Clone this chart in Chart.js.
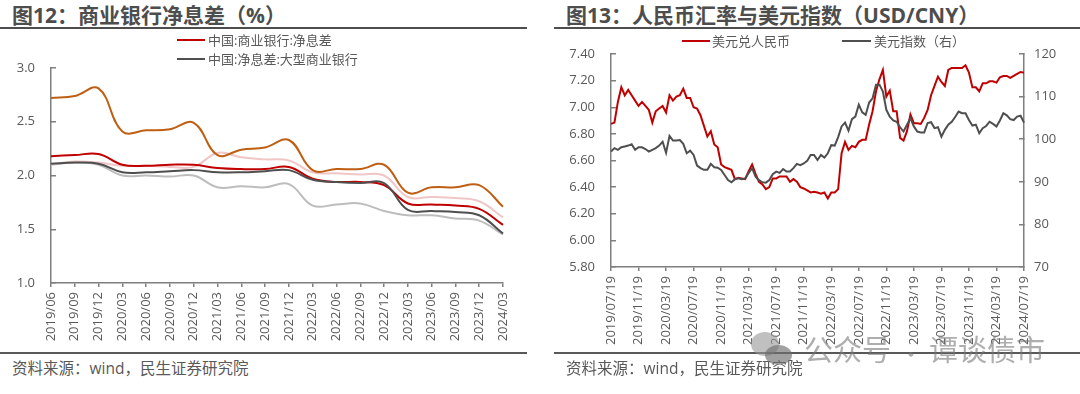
<!DOCTYPE html>
<html lang="zh">
<head>
<meta charset="utf-8">
<script src="https://cdn.jsdelivr.net/npm/chart.js@4"></script>
<style>
  html, body { margin: 0; background: #fff; }
  body { position: relative; width: 1080px; height: 394px; overflow: hidden; font-family: "Noto Sans CJK SC", "Open Sans", sans-serif; color: #595959; }
  canvas { position: absolute; }
  .title { position: absolute; top: 1px; font-size: 21px; line-height: 28px; font-weight: 700; color: #4d4d4d; white-space: nowrap; font-family: "Open Sans", "Noto Sans CJK SC", sans-serif; }
  .rule { position: absolute; height: 2px; background: #4d4d4d; }
  .source { position: absolute; top: 358px; font-size: 15.5px; line-height: 20px; white-space: nowrap; font-family: "Open Sans", "Noto Sans CJK SC", sans-serif; }
  .lg { position: absolute; font-size: 13px; line-height: 18px; white-space: nowrap; font-family: "Open Sans", "Noto Sans CJK SC", sans-serif; }
  .lg i { position: absolute; height: 2px; top: 8px; }
  .wm { position: absolute; top: 327px; font-size: 29px; line-height: 42px; color: rgba(120,120,120,.6); white-space: nowrap; }
  .blob { position: absolute; border-radius: 50%; }
</style>
</head>
<body>
<div class="title" style="left:12px">图12：商业银行净息差（%）</div>
<div class="rule" style="left:0;top:27px;width:527px"></div>
<div class="title" style="left:566px">图13：人民币汇率与美元指数（USD/CNY）</div>
<div class="rule" style="left:554px;top:27px;width:526px"></div>

<canvas id="chartNim" width="540" height="312" style="left:0;top:38px"></canvas>
<canvas id="chartFx" width="540" height="322" style="left:540px;top:24px"></canvas>

<div class="lg" style="left:208px;top:31px"><i style="left:-31px;width:28px;background:#c00000"></i>中国:商业银行:净息差</div>
<div class="lg" style="left:208px;top:50px"><i style="left:-31px;width:28px;background:#4f4f4f"></i>中国:净息差:大型商业银行</div>
<div class="lg" style="left:712px;top:32px"><i style="left:-30px;width:28px;background:#c00000"></i>美元兑人民币</div>
<div class="lg" style="left:874px;top:32px"><i style="left:-32px;width:29px;background:#4f4f4f"></i>美元指数（右）</div>

<div class="rule" style="left:0;top:352px;width:527px;background:#595959"></div>
<div class="rule" style="left:554px;top:352px;width:526px;background:#595959"></div>
<div class="source" style="left:12px">资料来源：wind，民生证券研究院</div>
<div class="source" style="left:566px">资料来源：wind，民生证券研究院</div>

<!-- 水印 -->
<div class="blob" style="left:751px;top:332px;width:28px;height:24px;background:rgba(150,150,150,.6)"></div>
<div class="blob" style="left:765px;top:345px;width:27px;height:20px;background:rgba(110,110,110,.65)"></div>
<div class="wm" style="left:804px">公众号</div>
<div class="wm" style="left:900px;font-size:22px;top:331px">·</div>
<div class="wm" style="left:929px">谭谈债市</div>

<script>
// 图12 季度数据
const quarters = ['2019/06','2019/09','2019/12','2020/03','2020/06','2020/09','2020/12','2021/03','2021/06','2021/09','2021/12','2022/03','2022/06','2022/09','2022/12','2023/03','2023/06','2023/09','2023/12','2024/03'];
const nimAll   = [2.18,2.19,2.20,2.10,2.09,2.10,2.10,2.07,2.06,2.06,2.08,1.97,1.94,1.94,1.91,1.74,1.73,1.72,1.69,1.54];
const nimLarge = [2.11,2.12,2.11,2.03,2.03,2.04,2.05,2.03,2.03,2.04,2.05,1.96,1.94,1.93,1.93,1.68,1.67,1.66,1.63,1.46];
const nimOrange = [2.72,2.74,2.81,2.41,2.42,2.43,2.49,2.19,2.24,2.26,2.33,2.05,2.06,2.06,2.10,1.84,1.89,1.89,1.91,1.71];
const nimPink  = [2.10,2.13,2.12,2.09,2.09,2.08,2.08,2.21,2.17,2.15,2.14,2.03,2.02,2.01,2.00,1.80,1.80,1.79,1.76,1.61];
const nimGray  = [2.10,2.12,2.10,2.00,2.00,1.99,2.00,1.89,1.90,1.89,1.92,1.72,1.73,1.74,1.67,1.63,1.63,1.60,1.58,1.45];

// 图13 半月数据，每 8 个点一个刻度
const fxTicks = ['2019/07/19','2019/11/19','2020/03/19','2020/07/19','2020/11/19','2021/03/19','2021/07/19','2021/11/19','2022/03/19','2022/07/19','2022/11/19','2023/03/19','2023/07/19','2023/11/19','2024/03/19','2024/07/19'];
const usdCny = [6.875,6.885,7.04,7.15,7.09,7.13,7.09,7.05,7.01,7.04,7.01,6.98,6.885,6.97,6.99,7.01,6.96,7.09,7.05,7.08,7.09,7.14,7.07,7.07,7.00,6.99,6.94,6.86,6.78,6.82,6.72,6.70,6.57,6.55,6.54,6.53,6.46,6.47,6.465,6.46,6.52,6.57,6.50,6.44,6.42,6.385,6.40,6.465,6.465,6.48,6.48,6.48,6.44,6.46,6.44,6.40,6.39,6.375,6.36,6.365,6.36,6.35,6.36,6.315,6.36,6.36,6.385,6.655,6.74,6.68,6.71,6.70,6.74,6.755,6.755,6.87,6.97,7.12,7.21,7.28,7.08,7.125,6.97,6.97,6.77,6.75,6.82,6.945,6.88,6.88,6.875,6.92,6.98,7.09,7.16,7.23,7.19,7.16,7.28,7.295,7.295,7.295,7.295,7.315,7.26,7.15,7.15,7.12,7.18,7.18,7.195,7.195,7.185,7.225,7.235,7.235,7.22,7.235,7.25,7.265,7.26];
const dollarIndex = [97.1,97.9,97.5,98.1,98.3,98.5,98.8,97.5,98.1,98.1,97.7,97.1,97.5,97.9,98.5,99.4,96.8,100.8,99.7,99.7,99.8,98.9,96.7,97.3,96.3,93.8,93.2,92.8,92.8,94.2,93.4,93.3,92.8,91.6,90.4,89.9,90.6,90.8,90.6,90.8,92.1,93.2,91.2,90.4,89.9,89.8,90.4,91.8,92.4,92.1,93.0,92.4,92.4,93.2,94.2,93.9,94.3,94.9,96.3,96.3,95.1,96.3,95.7,96.7,98.6,98.5,100.5,103,103.9,102,104.7,105.3,108.1,106.3,105.7,108.6,109.6,112.8,112.8,111.2,106.9,105.3,104.4,104.1,102.8,101.8,103.4,104.9,103,101.8,101.6,101.6,103.8,104,102.6,102.8,100.6,102.2,103.4,104.1,105.2,106.5,106.1,106.1,104.5,103.2,103.4,101.4,102.6,103.1,104.1,103.6,103,104.4,106.1,105.6,104.7,104.5,105.3,105.5,103.9];

const axisColor = '#7f7f7f';
const textColor = '#595959';
const tickFont = { family: '"Open Sans", sans-serif', size: 13 };

const line = (data, color, extra) => Object.assign({
    data, borderColor: color, borderWidth: 2, pointRadius: 0, fill: false, clip: false
}, extra);

const baseOptions = {
    responsive: false,
    animation: false,
    events: [],
    plugins: { legend: { display: false }, tooltip: { enabled: false } }
};

// 刻度线向内，所以 tickLength 用负数
const yAxis = (min, max, step, digits, width, position, pad) => ({
    position, min, max,
    afterFit: s => { s.width = width; },
    border: { color: axisColor, width: 1.5 },
    grid: { drawOnChartArea: false, color: axisColor, tickLength: -5, lineWidth: 1.5 },
    ticks: { stepSize: step, color: textColor, font: tickFont, padding: pad, callback: v => v.toFixed(digits) }
});

new Chart(document.getElementById('chartNim'), {
    type: 'line',
    data: {
        labels: quarters,
        datasets: [
            line(nimLarge, '#4f4f4f', { tension: 0.4 }),
            line(nimAll, '#c00000', { tension: 0.4 }),
            line(nimOrange, '#bf5f14', { tension: 0.4 }),
            line(nimPink, '#f0c6c6', { tension: 0.4 }),
            line(nimGray, '#bdbdbd', { tension: 0.4 })
        ]
    },
    options: Object.assign({}, baseOptions, {
        layout: { padding: { top: 30, right: 37 } },
        scales: {
            x: {
                afterFit: s => { s.height = 67; },
                border: { color: axisColor, width: 1.5 },
                grid: { drawOnChartArea: false, color: axisColor, tickLength: 4, lineWidth: 1.5 },
                ticks: { color: textColor, font: tickFont, autoSkip: false, minRotation: 90, maxRotation: 90, padding: 5 }
            },
            y: yAxis(1, 3, 0.5, 1, 51, 'left', 21)
        }
    })
});

const fxLabels = [];
fxTicks.forEach((t, i) => {
    fxLabels.push(t);
    if (i < fxTicks.length - 1) for (let k = 0; k < 7; k++) fxLabels.push('');
});

new Chart(document.getElementById('chartFx'), {
    type: 'line',
    data: {
        labels: fxLabels,
        datasets: [
            line(dollarIndex, '#4f4f4f', { yAxisID: 'y2', order: 1 }),
            line(usdCny, '#c00000', { yAxisID: 'y', order: 2 })
        ]
    },
    options: Object.assign({}, baseOptions, {
        layout: { padding: { top: 30 } },
        scales: {
            x: {
                afterFit: s => { s.height = 79; },
                afterBuildTicks: s => { s.ticks = s.ticks.filter(t => t.value % 8 === 0); },
                border: { color: axisColor, width: 1.5 },
                grid: { drawOnChartArea: false, color: axisColor, tickLength: 4, lineWidth: 1.5 },
                ticks: { color: textColor, font: tickFont, autoSkip: false, minRotation: 90, maxRotation: 90, padding: 5 }
            },
            y: yAxis(5.8, 7.4, 0.2, 2, 71, 'left', 21),
            y2: yAxis(70, 120, 10, 0, 56, 'right', 15)
        }
    })
});
</script>
</body>
</html>
